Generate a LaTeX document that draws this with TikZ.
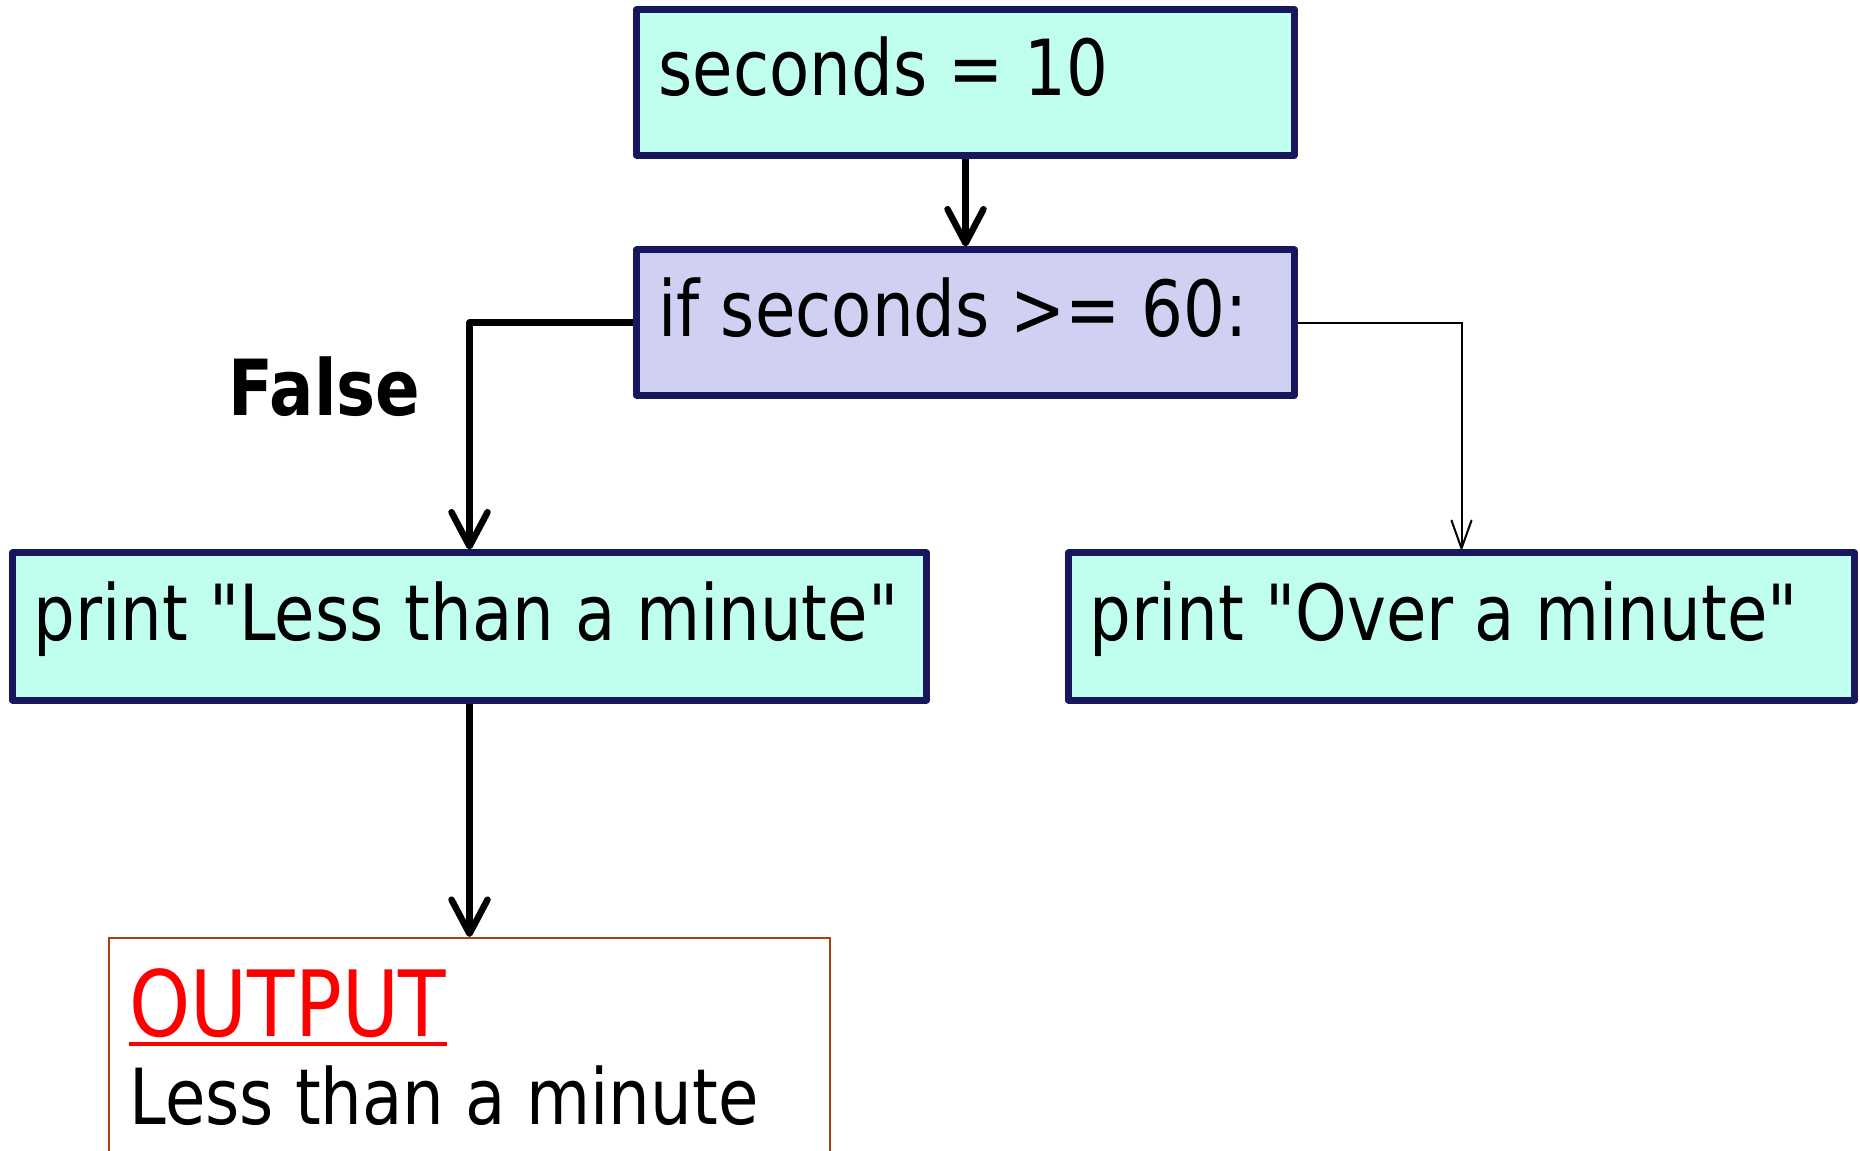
\documentclass[tikz,border=0pt]{standalone}
\usepackage{fontspec}
\setmainfont{DejaVu Sans}[FakeStretch=0.85, Ligatures=TeXOff]
\usetikzlibrary{arrows.meta}
\definecolor{mint}{RGB}{192,255,237}
\definecolor{lav}{RGB}{208,208,242}
\definecolor{navy}{RGB}{24,22,92}
\definecolor{brick}{RGB}{168,64,20}
\begin{document}
\begin{tikzpicture}[x=0.01cm,y=-0.01cm,
  box/.style={draw=navy, line width=0.07cm, line join=round, inner sep=0pt, rectangle},
  txt/.style={inner sep=0pt, anchor=base west, font=\fontsize{22pt}{26pt}\selectfont},
  thickarrow/.style={line width=0.065cm, line join=round, -{Straight Barb[length=0.34cm,width=0.36cm,round]}},
  thinarrow/.style={line width=0.02cm, -{Straight Barb[length=0.28cm,width=0.2cm,round]}}]
\useasboundingbox (0,0) rectangle (1860,1150);
\node[box, fill=mint, minimum width=6.57cm, minimum height=1.455cm] (b1) at (965.5,82.25) {};
\node[box, fill=lav, minimum width=6.57cm, minimum height=1.45cm] (b2) at (965.5,322.5) {};
\node[box, fill=mint, minimum width=9.13cm, minimum height=1.47cm] (b3) at (469.5,626.5) {};
\node[box, fill=mint, minimum width=7.85cm, minimum height=1.47cm] (b4) at (1461.5,626.5) {};
\node[draw=brick, line width=0.02cm, inner sep=0pt, minimum width=7.21cm, minimum height=3.12cm] (out) at (469.5,1094) {};
\node[txt] (t1) at (658,95) {seconds = 10};
\node[txt] (t2) at (658,336) {if seconds >= 60:};
\node[txt] (t3) at (33,640) {print "Less than a minute"};
\node[txt] (t4) at (1089,640) {print "Over a minute"};
\node[txt, font=\fontsize{22pt}{26pt}\selectfont\bfseries] (f) at (228,415) {False};
\node[txt, font=\fontsize{26pt}{30pt}\selectfont, text=red] (o) at (129,1036) {OUTPUT};
\path (o.base west) ++(0,8) coordinate (u1) (o.base east) ++(0,8) coordinate (u2);
\draw[red, line width=0.045cm] (u1) -- (u2);
\node[txt] (l) at (129,1124) {Less than a minute};
\draw[thickarrow] (b1.south) -- (b2.north);
\draw[thickarrow] (b2.west) -| (b3.north);
\draw[thinarrow] (b2.east) -| (b4.north);
\draw[thickarrow] (b3.south) -- (out.north);
\end{tikzpicture}
\end{document}
